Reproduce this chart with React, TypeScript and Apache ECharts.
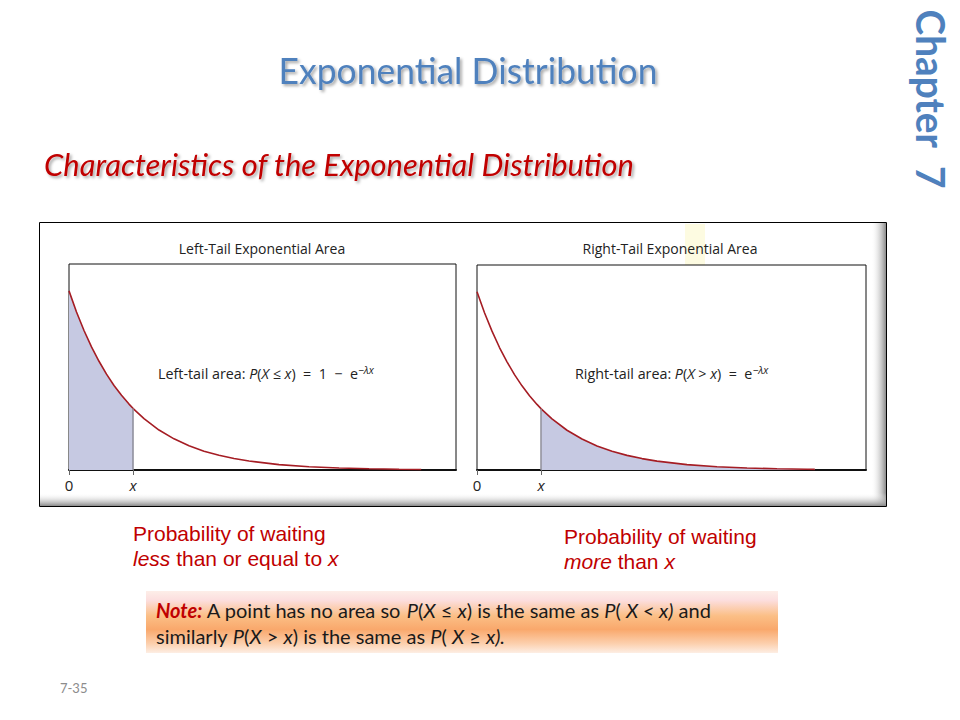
import React, { useEffect, useRef } from "react";
import * as echarts from "echarts";

// ---- data ----
const curveX = [0, 0.125, 0.25, 0.375, 0.5, 0.625, 0.75, 0.875, 1.0, 1.07, 1.25, 1.5, 1.75, 2.0, 2.25, 2.5, 2.75, 3.0, 3.5, 4.0, 4.5, 5.0, 5.5];
const curveY = [1.0, 0.882, 0.779, 0.687, 0.607, 0.535, 0.472, 0.417, 0.368, 0.343, 0.287, 0.223, 0.174, 0.135, 0.105, 0.082, 0.064, 0.05, 0.03, 0.018, 0.011, 0.007, 0.004];
const leftTailEnd = [5.87, 0.003];
const rightTailEnd = [5.63, 0.0036];
const xMark = 1.07;
const tickValues = [0, xMark];
const panelTitles = ["Left-Tail Exponential Area", "Right-Tail Exponential Area"];

const FIG_FONT = "'Open Sans', 'DejaVu Sans', sans-serif";
const SLIDE_FONT = "Lato, 'Open Sans', sans-serif";
const ARIAL = "'Liberation Sans', Arial, sans-serif";

function pts(filter: (x: number) => boolean) {
  const out: number[][] = [];
  curveX.forEach((x, i) => {
    if (filter(x)) out.push([x, curveY[i]]);
  });
  return out;
}

export default function App() {
  const ref = useRef<HTMLDivElement>(null);
  useEffect(() => {
    if (!ref.current) return;
    const chart = echarts.init(ref.current, undefined, { renderer: "svg" });

    const leftCurve = [...pts(() => true), leftTailEnd];
    const rightCurve = [...pts(() => true), rightTailEnd];
    const leftShade = pts((x) => x <= xMark);
    const rightShade = [...pts((x) => x >= xMark), rightTailEnd];
    const markY = curveY[curveX.indexOf(xMark)];

    const grids = [
      { left: 69, top: 264, width: 387, height: 206 },
      { left: 477, top: 265, width: 389, height: 205 },
    ];

    const xAxis = grids.map((g, i) => ({
      type: "value",
      gridIndex: i,
      min: 0,
      max: g.width / 60,
      splitLine: { show: false },
      axisLine: { show: true, lineStyle: { color: "#111", width: 2 } },
      axisTick: {
        show: true,
        customValues: tickValues,
        length: 5,
        lineStyle: { color: "#666", width: 1 },
      },
      axisLabel: {
        show: true,
        customValues: tickValues,
        margin: 7,
        fontFamily: FIG_FONT,
        fontSize: 15,
        color: "#222",
        formatter: (v: number) => (v === 0 ? "{n|0}" : "{i|x}"),
        rich: {
          n: { fontFamily: FIG_FONT, fontSize: 15, color: "#222" },
          i: { fontStyle: "italic", fontFamily: FIG_FONT, fontSize: 15, color: "#222" },
        },
      },
    }));
    const yAxis = grids.map((_, i) => ({
      type: "value",
      gridIndex: i,
      min: 0,
      max: 1.15,
      show: false,
    }));

    const curveStyle = { color: "#a51d24", width: 1.6 };
    const markLine = {
      silent: true,
      symbol: ["none", "none"],
      label: { show: false },
      lineStyle: { color: "#8c8c99", width: 1.5, type: "solid" },
      data: [[{ coord: [xMark, 0] }, { coord: [xMark, markY] }]],
    };

    const series: any[] = [
      {
        type: "line", xAxisIndex: 0, yAxisIndex: 0, data: leftShade, showSymbol: false,
        lineStyle: { width: 0 }, areaStyle: { color: "#c6c9e2", opacity: 1 }, z: 2, markLine, silent: true,
      },
      {
        type: "line", xAxisIndex: 0, yAxisIndex: 0, data: leftCurve, showSymbol: false,
        lineStyle: curveStyle, z: 3, silent: true,
      },
      {
        type: "line", xAxisIndex: 1, yAxisIndex: 1, data: rightShade, showSymbol: false,
        lineStyle: { width: 0 }, areaStyle: { color: "#c6c9e2", opacity: 1 }, z: 2, markLine, silent: true,
      },
      {
        type: "line", xAxisIndex: 1, yAxisIndex: 1, data: rightCurve, showSymbol: false,
        lineStyle: curveStyle, z: 3, silent: true,
      },
    ];

    const innerRich = {
      n: { fontFamily: FIG_FONT, fontSize: 14.3, fill: "#222", lineHeight: 18 },
      i: { fontFamily: FIG_FONT, fontSize: 14.3, fontStyle: "italic", fill: "#222", lineHeight: 18 },
      s: { fontFamily: FIG_FONT, fontSize: 10.5, fontStyle: "italic", fill: "#222", verticalAlign: "top", lineHeight: 18 },
    };

    const noteRich = {
      b: { fontFamily: SLIDE_FONT, fontSize: 20, fontWeight: "bold", fontStyle: "italic", fill: "#c00000" },
      n: { fontFamily: SLIDE_FONT, fontSize: 20, fill: "#1a1a1a" },
      i: { fontFamily: SLIDE_FONT, fontSize: 20, fontStyle: "italic", fill: "#1a1a1a" },
    };
    const redRich = {
      n: { fontFamily: ARIAL, fontSize: 21, fill: "#c00000" },
      i: { fontFamily: ARIAL, fontSize: 21, fontStyle: "italic", fill: "#c00000" },
    };

    const graphic: any[] = [
      // figure frame
      { type: "rect", z: -10, shape: { x: 39.5, y: 222.5, width: 847, height: 284 }, style: { fill: "#fff", stroke: "#000", lineWidth: 1 } },
      {
        type: "rect", z: -9, shape: { x: 871, y: 223, width: 15, height: 283 },
        style: { fill: new echarts.graphic.LinearGradient(0, 0, 1, 0, [{ offset: 0, color: "rgba(255,255,255,0)" }, { offset: 1, color: "#8a8a8a" }]) },
      },
      {
        type: "rect", z: -9, shape: { x: 40, y: 493, width: 846, height: 13 },
        style: { fill: new echarts.graphic.LinearGradient(0, 0, 0, 1, [{ offset: 0, color: "rgba(255,255,255,0)" }, { offset: 1, color: "#8a8a8a" }]) },
      },
      { type: "rect", z: -8, shape: { x: 685, y: 224, width: 20, height: 41 }, style: { fill: "#fdfbe1" } },
      // panel titles
      { type: "text", x: 262, y: 248, z: 10, style: { text: panelTitles[0], font: `14px ${FIG_FONT}`, fill: "#222", textAlign: "center", textVerticalAlign: "middle" } },
      { type: "text", x: 670, y: 248, z: 10, style: { text: panelTitles[1], font: `14px ${FIG_FONT}`, fill: "#222", textAlign: "center", textVerticalAlign: "middle" } },
      // inner formulas
      {
        type: "text", x: 158, y: 373, z: 10,
        style: {
          text: "{n|Left-tail area: }{i|P}{n|(}{i|X}{n| ≤ }{i|x}{n|)  =  1  −  e}{s|−λx}",
          rich: innerRich, textVerticalAlign: "middle",
        },
      },
      {
        type: "text", x: 575, y: 373, z: 10,
        style: {
          text: "{n|Right-tail area: }{i|P}{n|(}{i|X}{n| > }{i|x}{n|)  =  e}{s|−λx}",
          rich: innerRich, textVerticalAlign: "middle",
        },
      },
      // slide title
      {
        type: "text", x: 468, y: 70, z: 10, scaleX: 0.985,
        style: {
          text: "Exponential Distribution", font: `36px ${SLIDE_FONT}`, fill: "#4f81bd",
          textAlign: "center", textVerticalAlign: "middle",
          textShadowColor: "rgba(0,0,0,0.35)", textShadowOffsetX: 2, textShadowOffsetY: 2, textShadowBlur: 3,
        },
      },
      {
        type: "text", x: 44, y: 164, z: 10, scaleX: 1.03,
        style: {
          text: "Characteristics of the Exponential Distribution", font: `italic 30px ${SLIDE_FONT}`, fill: "#c00000",
          textAlign: "left", textVerticalAlign: "middle",
          textShadowColor: "rgba(0,0,0,0.35)", textShadowOffsetX: 2, textShadowOffsetY: 2, textShadowBlur: 3,
        },
      },
      {
        type: "text", x: 932, y: 99, z: 10, rotation: -Math.PI / 2, scaleX: 0.97,
        style: {
          text: "Chapter  7", font: `bold 40px ${SLIDE_FONT}`, fill: "#4f81bd",
          textAlign: "center", textVerticalAlign: "middle",
        },
      },
      // red captions
      { type: "text", x: 133, y: 533, z: 10, style: { text: "{n|Probability of waiting}", rich: redRich, textVerticalAlign: "middle" } },
      { type: "text", x: 133, y: 558, z: 10, style: { text: "{i|less}{n| than or equal to }{i|x}", rich: redRich, textVerticalAlign: "middle" } },
      { type: "text", x: 564, y: 536, z: 10, style: { text: "{n|Probability of waiting}", rich: redRich, textVerticalAlign: "middle" } },
      { type: "text", x: 564, y: 561, z: 10, style: { text: "{i|more}{n| than }{i|x}", rich: redRich, textVerticalAlign: "middle" } },
      // note box
      {
        type: "rect", z: 5, shape: { x: 146, y: 591, width: 632, height: 62 },
        style: {
          fill: new echarts.graphic.LinearGradient(0, 0, 0, 1, [
            { offset: 0, color: "#fdeee8" },
            { offset: 0.15, color: "#fcdede" },
            { offset: 0.4, color: "#fbbf86" },
            { offset: 0.62, color: "#f9a86c" },
            { offset: 0.85, color: "#fcd0ae" },
            { offset: 1, color: "#fdeee4" },
          ]),
        },
      },
      {
        type: "text", x: 156, y: 610, z: 10,
        style: {
          text: "{b|Note:}{n| A point has no area so }{i|P}{n|(}{i|X}{n| ≤ }{i|x}{n|) is the same as }{i|P}{n|( }{i|X < x)}{n| and}",
          rich: noteRich, textVerticalAlign: "middle",
        },
      },
      {
        type: "text", x: 156, y: 636, z: 10,
        style: {
          text: "{n|similarly }{i|P}{n|(}{i|X}{n| > }{i|x}{n|) is the same as }{i|P}{n|( }{i|X}{n| ≥ }{i|x).}",
          rich: noteRich, textVerticalAlign: "middle",
        },
      },
      // slide number
      { type: "text", x: 60, y: 688, z: 10, style: { text: "7-35", font: `13px ${SLIDE_FONT}`, fill: "#8c8c8c", textVerticalAlign: "middle" } },
    ];

    chart.setOption({
      animation: false,
      backgroundColor: "#ffffff",
      grid: grids.map((g) => ({ ...g, show: true, borderColor: "#111", borderWidth: 1, backgroundColor: "#ffffff", containLabel: false })),
      xAxis,
      yAxis,
      series,
      graphic,
    });
    return () => chart.dispose();
  }, []);
  return <div ref={ref} style={{ position: "absolute", left: 0, top: 0, width: 960, height: 720 }} />;
}
